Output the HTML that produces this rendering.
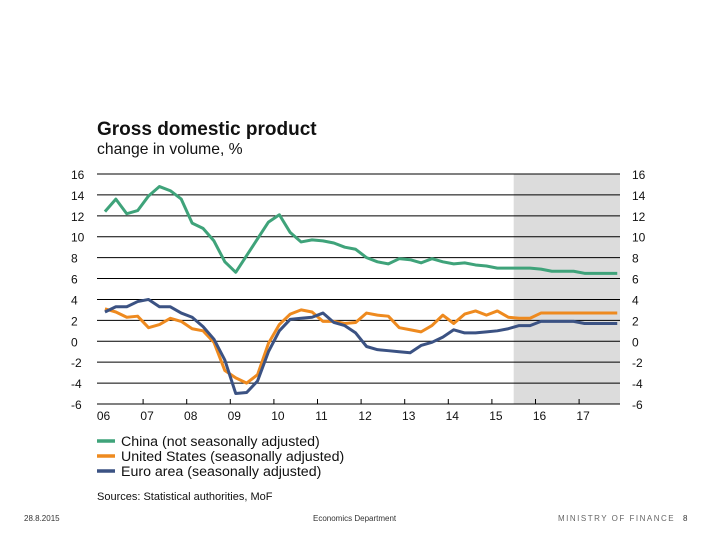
<!DOCTYPE html>
<html><head><meta charset="utf-8"><style>
body{margin:0;background:#fff;font-family:"Liberation Sans",Arial,sans-serif;}
svg{display:block}
</style></head><body>
<svg width="720" height="540" id="c">
<text x="97" y="135" font-size="19" font-weight="bold" fill="#111">Gross domestic product</text>
<text x="97" y="154" font-size="15.7" fill="#111">change in volume, %</text>
<text x="97" y="500" font-size="11" fill="#111">Sources: Statistical authorities, MoF</text>
<text x="24" y="521" font-size="8" fill="#333">28.8.2015</text>
<text x="313" y="521" font-size="8" fill="#333">Economics Department</text>
<text x="558" y="521" font-size="8" fill="#666" letter-spacing="1.5">MINISTRY OF FINANCE</text>
<text x="683" y="521" font-size="8" fill="#333">8</text>
</svg>
<script>
const years=["06","07","08","09","10","11","12","13","14","15","16","17"];
const yTicks=[16,14,12,10,8,6,4,2,0,-2,-4,-6];
const china=[12.4,13.6,12.2,12.5,13.9,14.8,14.4,13.6,11.3,10.8,9.6,7.6,6.6,8.2,9.8,11.4,12.1,10.4,9.5,9.7,9.6,9.4,9.0,8.8,8.0,7.6,7.4,7.9,7.8,7.5,7.9,7.6,7.4,7.5,7.3,7.2,7.0,7.0,7.0,7.0,6.9,6.7,6.7,6.7,6.5,6.5,6.5,6.5];
const us=[3.1,2.8,2.3,2.4,1.3,1.6,2.2,1.9,1.2,1.0,-0.1,-2.8,-3.5,-4.0,-3.2,-0.2,1.6,2.6,3.0,2.8,1.9,1.9,1.7,1.8,2.7,2.5,2.4,1.3,1.1,0.9,1.5,2.5,1.7,2.6,2.9,2.5,2.9,2.3,2.2,2.2,2.7,2.7,2.7,2.7,2.7,2.7,2.7,2.7];
const euro=[2.8,3.3,3.3,3.8,4.0,3.3,3.3,2.7,2.3,1.4,0.2,-1.8,-5.0,-4.9,-3.8,-1.0,1.0,2.1,2.2,2.3,2.7,1.8,1.5,0.8,-0.5,-0.8,-0.9,-1.0,-1.1,-0.4,-0.1,0.4,1.1,0.8,0.8,0.9,1.0,1.2,1.5,1.5,1.9,1.9,1.9,1.9,1.7,1.7,1.7,1.7];
const forecastStart=2015.5;
const legendLabels=["China (not seasonally adjusted)","United States (seasonally adjusted)","Euro area (seasonally adjusted)"];
const NS="http://www.w3.org/2000/svg",svg=document.getElementById('c');
const L=97,R=620,T=174,B=404;
const x=t=>99.5+(t-2006)*43.6;
const y=v=>T+(16-v)*(B-T)/22;
function mk(tag,a,p){const e=document.createElementNS(NS,tag);for(const k in a)e.setAttribute(k,a[k]);(p||svg).appendChild(e);return e;}
const sh=mk('rect',{x:x(forecastStart),y:T,width:R-x(forecastStart),height:B-T,fill:'#dcdcdc'});


yTicks.forEach(v=>{
 if(v>-6){const g=mk('line',{x1:L,x2:R,y1:y(v),y2:y(v),stroke:'#000','stroke-width':1});
 
 }
 const a=mk('text',{x:L-26,y:y(v)+5,'font-size':12,fill:'#111'});a.textContent=v;
 
 
 const b=mk('text',{x:R+12,y:y(v)+5,'font-size':12,fill:'#111'});b.textContent=v;
 
 
});
const ax=mk('line',{x1:L,x2:R,y1:B,y2:B,stroke:'#000'});


years.forEach((s,i)=>{
 const tx=x(2006+i);
 if(i>0){const tk=mk('line',{x1:tx,x2:tx,y1:B,y2:B-5,stroke:'#000'});
 
 }
 const t=mk('text',{x:tx+4,y:B+16,'font-size':12,fill:'#111','text-anchor':'middle'});t.textContent=s;
 
 
});
const series=[[china,'#3fa37a','china-line'],[us,'#ee8a1f','us-line'],[euro,'#3b5283','euro-line']];
series.forEach(([d,c,n])=>{
 const p=mk('polyline',{points:d.map((v,i)=>x(2006.125+i*0.25)+','+y(v)).join(' '),fill:'none',stroke:c,'stroke-width':3,'stroke-linejoin':'round'});
 
 
});
legendLabels.forEach((s,i)=>{
 const ly=441+i*15;
 const l=mk('line',{x1:97,x2:115,y1:ly,y2:ly,stroke:series[i][1],'stroke-width':3.5});
 
 
 const t=mk('text',{x:121,y:ly+5,'font-size':14.2,fill:'#111'});t.textContent=s;
 
 
});
</script>
</body></html>
